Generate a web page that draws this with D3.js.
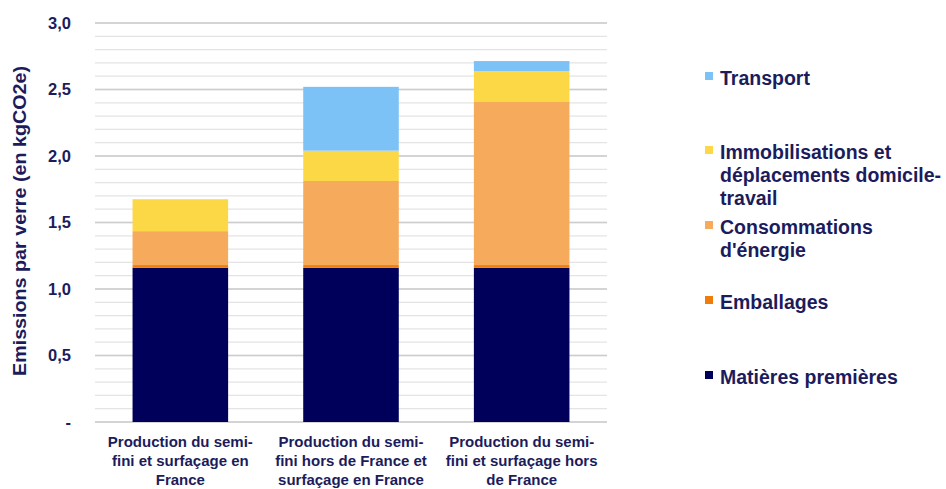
<!DOCTYPE html>
<html><head><meta charset="utf-8">
<script src="https://cdn.jsdelivr.net/npm/d3@7"></script>
<style>body{margin:0;background:#fff;} svg{display:block;font-family:"Liberation Sans",Arial,sans-serif;font-weight:bold;}</style>
</head><body>
<svg id="c" width="946" height="489"></svg>
<script>
const categories = [
  ["Production du semi-","fini et surfaçage en","France"],
  ["Production du semi-","fini hors de France et","surfaçage en France"],
  ["Production du semi-","fini et surfaçage hors","de France"]
];
const seriesNames = ["Matières premières","Emballages","Consommations d'énergie","Immobilisations et déplacements domicile-travail","Transport"];
const matieres = [1.16, 1.16, 1.16];
const emballages = [0.02, 0.02, 0.02];
const consommations = [0.255, 0.632, 1.226];
const immobilisations = [0.24, 0.228, 0.233];
const transport = [0, 0.48, 0.075];
const colors = ["#00005a","#f07d0a","#f6ab5c","#fdd846","#7dc2f7"];
const yTicks = [0,0.5,1.0,1.5,2.0,2.5,3.0];
const legendLines = [
  ["Transport"],
  ["Immobilisations et","déplacements domicile-","travail"],
  ["Consommations","d'énergie"],
  ["Emballages"],
  ["Matières premières"]
];

const svg = d3.select("#c");
const m = {left:95, right:339, top:23, bottom:67};
const W = 946, H = 489;
const x = d3.scaleBand().domain(d3.range(categories.length)).range([m.left, W-m.right]).paddingInner(0.44).paddingOuter(0.22);
const y = d3.scaleLinear().domain([0,3]).range([H-m.bottom, m.top]);
const textCol = "#1c1c5c";

// minor gridlines
const minor = d3.range(0, 3.001, 0.1);
svg.append("g").selectAll("line").data(minor).join("line")
  .attr("x1", m.left).attr("x2", 607)
  .attr("y1", d=>y(d)).attr("y2", d=>y(d))
  .attr("stroke", "#e4e4e4").attr("stroke-width", 1.3);
svg.append("g").selectAll("line").data(yTicks).join("line")
  .attr("x1", m.left).attr("x2", 607)
  .attr("y1", d=>y(d)).attr("y2", d=>y(d))
  .attr("stroke", "#cdcdcd").attr("stroke-width", 1.6);

const rows = categories.map((c,i)=>({i, m:matieres[i], e:emballages[i], c:consommations[i], im:immobilisations[i], t:transport[i]}));
const stack = d3.stack().keys(["m","e","c","im","t"])(rows);
svg.append("g").selectAll("g").data(stack).join("g")
  .attr("fill", (d,k)=>colors[k])
  .selectAll("rect").data(d=>d).join("rect")
  .attr("x", d=>x(d.data.i)).attr("width", x.bandwidth())
  .attr("y", d=>y(d[1])).attr("height", d=>Math.max(0, y(d[0])-y(d[1])));

// y axis labels
const yAxis = d3.axisLeft(y).tickValues(yTicks).tickSize(0).tickPadding(0)
  .tickFormat(d=> d===0 ? "-" : d3.format(".1f")(d).replace(".",","));
const ya = svg.append("g").attr("transform","translate(71,0)").call(yAxis);
ya.select(".domain").remove();
ya.selectAll("text").attr("fill",textCol).attr("font-size",16.5).attr("font-weight","bold").attr("font-family","Liberation Sans, Arial, sans-serif");

// y title
svg.append("text").attr("transform","translate(26,221) rotate(-90)")
  .attr("text-anchor","middle").attr("fill",textCol).attr("font-size",17.5)
  .attr("textLength",310).attr("lengthAdjust","spacingAndGlyphs")
  .text("Emissions par verre (en kgCO2e)");

// x labels
const xl = svg.append("g");
categories.forEach((lines,i)=>{
  const t = xl.append("text").attr("text-anchor","middle").attr("fill",textCol).attr("font-size",15);
  lines.forEach((ln,j)=>{
    t.append("tspan").attr("x", x(i)+x.bandwidth()/2).attr("y", 447+j*19).text(ln);
  });
});

// legend
const legY = [78, 152, 227, 302, 377];
const legColors = [colors[4], colors[3], colors[2], colors[1], colors[0]];
legendLines.forEach((lines,k)=>{
  svg.append("rect").attr("x",705).attr("y",legY[k]-6).attr("width",8).attr("height",8).attr("fill",legColors[k]);
  const t = svg.append("text").attr("fill",textCol).attr("font-size",19.5);
  lines.forEach((ln,j)=>{
    t.append("tspan").attr("x",720).attr("y",legY[k]+7+j*23).text(ln);
  });
});
</script>
</body></html>
